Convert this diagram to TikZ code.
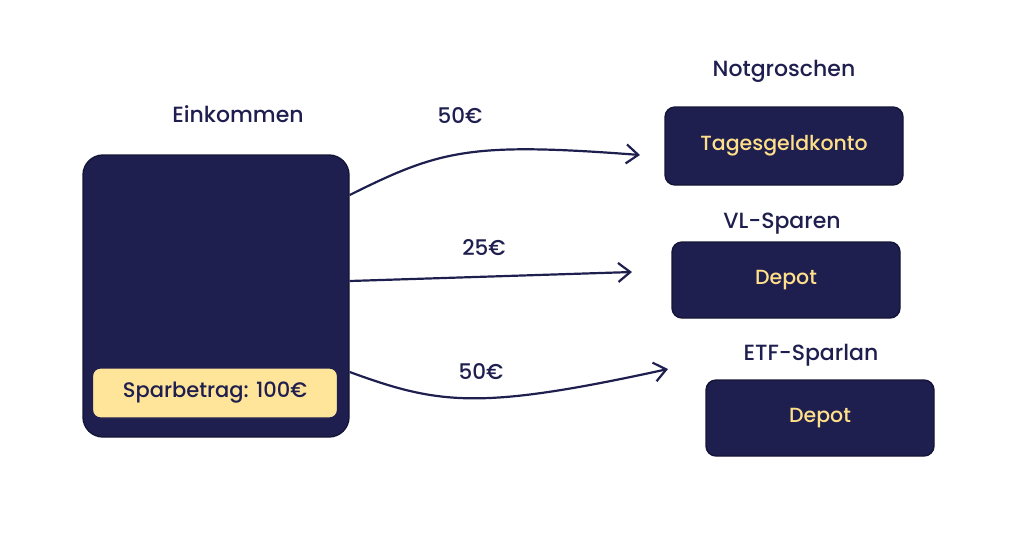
\documentclass[tikz,border=0pt]{standalone}
\usepackage{fontspec}
\setmainfont{Poppins}[UprightFont=* Medium]
\usepackage{xcolor}
\usetikzlibrary{arrows.meta, positioning}

\definecolor{navy}{HTML}{1E1E4F}
\definecolor{sand}{HTML}{FFE599}
\definecolor{gold}{HTML}{FFE08A}

\begin{document}
\begin{tikzpicture}[x=1pt,y=-1pt,>={Straight Barb[length=12pt,width=19pt]},
  konto/.style={draw=navy!70!black,line width=1.4pt,fill=navy,rounded corners=10pt,minimum width=234pt,minimum height=76pt,text=gold,font=\fontsize{20.5}{24}\selectfont},
  titel/.style={text=navy,font=\fontsize{22}{26}\selectfont},
  betrag/.style={text=navy,font=\fontsize{21.5}{25}\selectfont},
  fluss/.style={->,draw=navy,line width=2.2pt}]
  \useasboundingbox (0,0) rectangle (1024,547);
  % Einkommen
  \node[draw=navy!70!black,line width=1.4pt,fill=navy,rounded corners=20pt,minimum width=266pt,minimum height=282pt] (einkommen) at (216,296) {};
  \node[titel,above=28pt of einkommen,xshift=22pt] (einkommentitel) {Einkommen};
  \node[draw=navy,line width=1.2pt,fill=sand,rounded corners=8pt,minimum width=245pt,minimum height=50pt,text=navy,font=\fontsize{21}{24}\selectfont] (spar) at (215,393) {Sparbetrag: 100€};
  % Konten
  \node[konto,minimum width=238pt,minimum height=78pt] (tagesgeld) at (784,146) {Tagesgeldkonto};
  \node[titel,above=20pt of tagesgeld] (notgroschen) {Notgroschen};
  \node[konto,minimum width=228pt] (vl) at (786,280) {Depot};
  \node[titel,above=4pt of vl,xshift=-4pt] (vltitel) {VL-Sparen};
  \node[konto,minimum width=228pt] (etf) at (820,418) {Depot};
  \node[titel,above=10pt of etf,xshift=-9pt] (etftitel) {ETF-Sparlan};
  % Pfeile
  \coordinate (z1) at (640,155);
  \coordinate (z2) at (632,272);
  \coordinate (z3) at (668,369);
  \draw[fluss] (einkommen.east |- 0,195) .. controls (440,150) and (470,142) .. (z1);
  \draw[fluss] (einkommen.east |- 0,281) -- (z2);
  \draw[fluss] (einkommen.east |- 0,372) .. controls (440,405) and (480,410) .. (z3);
  \node[betrag] (b1) at (460,116) {50€};
  \node[betrag] (b2) at (484,248) {25€};
  \node[betrag] (b3) at (481,372) {50€};
\end{tikzpicture}
\end{document}
